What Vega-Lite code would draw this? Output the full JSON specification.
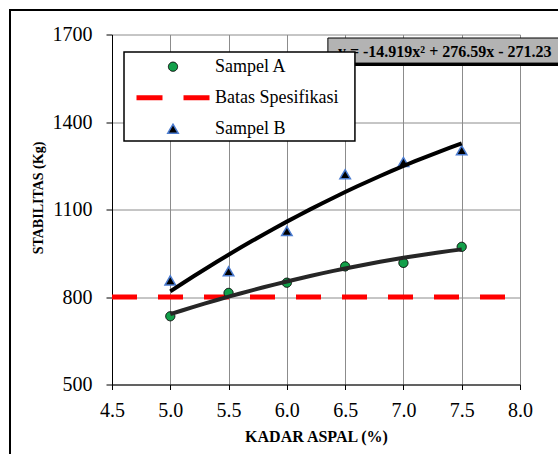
{
  "$schema": "https://vega.github.io/schema/vega-lite/v6.json",
  "width": 408,
  "height": 350,
  "autosize": {"type": "none"},
  "padding": {"left": 112, "top": 34.5, "right": 38, "bottom": 69.5},
  "background": "white",
  "config": {
    "view": {"stroke": null},
    "font": "Liberation Serif",
    "axis": {
      "labelFont": "Liberation Serif",
      "labelFontSize": 20,
      "labelColor": "black",
      "titleFont": "Liberation Serif",
      "titleFontWeight": "bold",
      "titleColor": "black",
      "domainColor": "black",
      "domainWidth": 1,
      "tickColor": "black",
      "gridColor": "#8c8c8c",
      "gridWidth": 1
    },
    "legend": {
      "orient": "none",
      "legendX": 22,
      "legendY": 22.7,
      "padding": 0,
      "labelFont": "Liberation Serif",
      "labelFontSize": 18,
      "labelColor": "black",
      "labelOffset": 3,
      "rowPadding": 12,
      "clipHeight": 19,
      "zindex": 5
    }
  },
  "datasets": {
    "samples": [
      {"kadar": 5.0, "stabilitas": 734, "series": "Sampel A"},
      {"kadar": 5.5, "stabilitas": 814, "series": "Sampel A"},
      {"kadar": 6.0, "stabilitas": 849, "series": "Sampel A"},
      {"kadar": 6.5, "stabilitas": 905, "series": "Sampel A"},
      {"kadar": 7.0, "stabilitas": 917, "series": "Sampel A"},
      {"kadar": 7.5, "stabilitas": 972, "series": "Sampel A"},
      {"kadar": 5.0, "stabilitas": 857, "series": "Sampel B"},
      {"kadar": 5.5, "stabilitas": 888, "series": "Sampel B"},
      {"kadar": 6.0, "stabilitas": 1026, "series": "Sampel B"},
      {"kadar": 6.5, "stabilitas": 1221, "series": "Sampel B"},
      {"kadar": 7.0, "stabilitas": 1263, "series": "Sampel B"},
      {"kadar": 7.5, "stabilitas": 1303, "series": "Sampel B"}
    ],
    "batas": [
      {"kadar": 4.5, "stabilitas": 800},
      {"kadar": 8.0, "stabilitas": 800}
    ],
    "frame": [
      {"kadar": 3.625, "kadar2": 9.5, "stabilitas": 1784, "stabilitas2": 100}
    ],
    "eqshadow": [
      {"kadar": 6.378, "kadar2": 9.5, "stabilitas": 1677.7, "stabilitas2": 1592}
    ],
    "eqbox": [
      {"kadar": 6.352, "kadar2": 9.5, "stabilitas": 1688, "stabilitas2": 1602}
    ],
    "eqtext": [
      {"kadar": 6.438, "stabilitas": 1641, "label": "y = -14.919x² + 276.59x - 271.23"}
    ],
    "legendbox": [
      {"kadar": 4.603, "kadar2": 6.584, "stabilitas": 1640, "stabilitas2": 1334.5}
    ]
  },
  "layer": [
    {
      "data": {"name": "frame"},
      "mark": {"type": "rect", "fill": "transparent", "stroke": "black", "strokeWidth": 2, "clip": false},
      "encoding": {
        "x": {"field": "kadar", "type": "quantitative",
          "scale": {"domain": [4.5, 8], "nice": false, "zero": false},
          "axis": {
            "title": "KADAR ASPAL (%)",
            "titleFontSize": 16,
            "values": [4.5, 5.0, 5.5, 6.0, 6.5, 7.0, 7.5, 8.0],
            "format": ".1f",
            "labelFont": "Liberation Serif",
            "tickSize": 5,
            "labelPadding": 11,
            "titleY": 51.5,
            "titleBaseline": "middle",
            "labelFlush": false,
            "grid": true
          }
        },
        "x2": {"field": "kadar2"},
        "y": {"field": "stabilitas", "type": "quantitative",
          "scale": {"domain": [500, 1700], "nice": false, "zero": false},
          "axis": {
            "title": "STABILITAS (Kg)",
            "titleFontSize": 14,
            "values": [500, 800, 1100, 1400, 1700],
            "format": "d",
            "labelFont": "Liberation Serif",
            "tickSize": 6,
            "labelPadding": 14,
            "titleX": -74,
            "titleY": 163,
            "titleAngle": -90,
            "titleAlign": "center",
            "titleBaseline": "middle",
            "labelFlush": false,
            "grid": true
          }
        },
        "y2": {"field": "stabilitas2"}
      }
    },
    {
      "data": {"name": "batas"},
      "mark": {"type": "line", "color": "#ff0000", "strokeWidth": 5, "strokeDash": [25, 21]},
      "encoding": {
        "x": {"field": "kadar", "type": "quantitative"},
        "y": {"field": "stabilitas", "type": "quantitative"}
      }
    },
    {
      "data": {"name": "samples"},
      "mark": {"type": "point", "opacity": 1, "fillOpacity": 1, "strokeOpacity": 1},
      "encoding": {
        "x": {"field": "kadar", "type": "quantitative"},
        "y": {"field": "stabilitas", "type": "quantitative"},
        "fill": {"field": "series", "type": "nominal", "title": null,
          "scale": {"domain": ["Sampel A", "Batas Spesifikasi", "Sampel B"], "range": ["#13a04a", "transparent", "#000000"]}},
        "stroke": {"field": "series", "type": "nominal", "title": null,
          "scale": {"domain": ["Sampel A", "Batas Spesifikasi", "Sampel B"], "range": ["#000000", "#ff0000", "#4a7bd0"]}},
        "shape": {"field": "series", "type": "nominal", "title": null,
          "scale": {"domain": ["Sampel A", "Batas Spesifikasi", "Sampel B"], "range": ["circle", "stroke", "triangle-up"]}},
        "size": {"field": "series", "type": "nominal", "title": null,
          "scale": {"type": "ordinal", "domain": ["Sampel A", "Batas Spesifikasi", "Sampel B"], "range": [85, 5329, 110]}},
        "strokeWidth": {"field": "series", "type": "nominal", "title": null,
          "scale": {"type": "ordinal", "domain": ["Sampel A", "Batas Spesifikasi", "Sampel B"], "range": [1, 5, 1.5]}},
        "strokeDash": {"field": "series", "type": "nominal", "title": null,
          "scale": {"domain": ["Sampel A", "Batas Spesifikasi", "Sampel B"], "range": [[1, 0], [26, 21], [1, 0]]}}
      }
    },
    {
      "data": {"name": "samples"},
      "transform": [
        {"filter": "datum.series === 'Sampel A'"},
        {"regression": "stabilitas", "on": "kadar", "method": "poly", "order": 2}
      ],
      "mark": {"type": "line", "color": "#262626", "strokeWidth": 4},
      "encoding": {
        "x": {"field": "kadar", "type": "quantitative"},
        "y": {"field": "stabilitas", "type": "quantitative"}
      }
    },
    {
      "data": {"name": "samples"},
      "transform": [
        {"filter": "datum.series === 'Sampel B'"},
        {"regression": "stabilitas", "on": "kadar", "method": "poly", "order": 2}
      ],
      "mark": {"type": "line", "color": "#000000", "strokeWidth": 4},
      "encoding": {
        "x": {"field": "kadar", "type": "quantitative"},
        "y": {"field": "stabilitas", "type": "quantitative"}
      }
    },
    {
      "data": {"name": "eqshadow"},
      "mark": {"type": "rect", "fill": "black", "clip": false},
      "encoding": {
        "x": {"field": "kadar", "type": "quantitative"},
        "x2": {"field": "kadar2"},
        "y": {"field": "stabilitas", "type": "quantitative"},
        "y2": {"field": "stabilitas2"}
      }
    },
    {
      "data": {"name": "eqbox"},
      "mark": {"type": "rect", "fill": "#b3b3b3", "stroke": "black", "strokeWidth": 1, "clip": false},
      "encoding": {
        "x": {"field": "kadar", "type": "quantitative"},
        "x2": {"field": "kadar2"},
        "y": {"field": "stabilitas", "type": "quantitative"},
        "y2": {"field": "stabilitas2"}
      }
    },
    {
      "data": {"name": "eqtext"},
      "mark": {"type": "text", "align": "left", "baseline": "middle", "font": "Liberation Serif", "fontSize": 16, "fontWeight": "bold", "color": "black", "clip": false},
      "encoding": {
        "x": {"field": "kadar", "type": "quantitative"},
        "y": {"field": "stabilitas", "type": "quantitative"},
        "text": {"field": "label"}
      }
    },
    {
      "data": {"name": "legendbox"},
      "mark": {"type": "rect", "fill": "white", "stroke": "black", "strokeWidth": 1.5, "clip": false},
      "encoding": {
        "x": {"field": "kadar", "type": "quantitative"},
        "x2": {"field": "kadar2"},
        "y": {"field": "stabilitas", "type": "quantitative"},
        "y2": {"field": "stabilitas2"}
      }
    }
  ]
}
